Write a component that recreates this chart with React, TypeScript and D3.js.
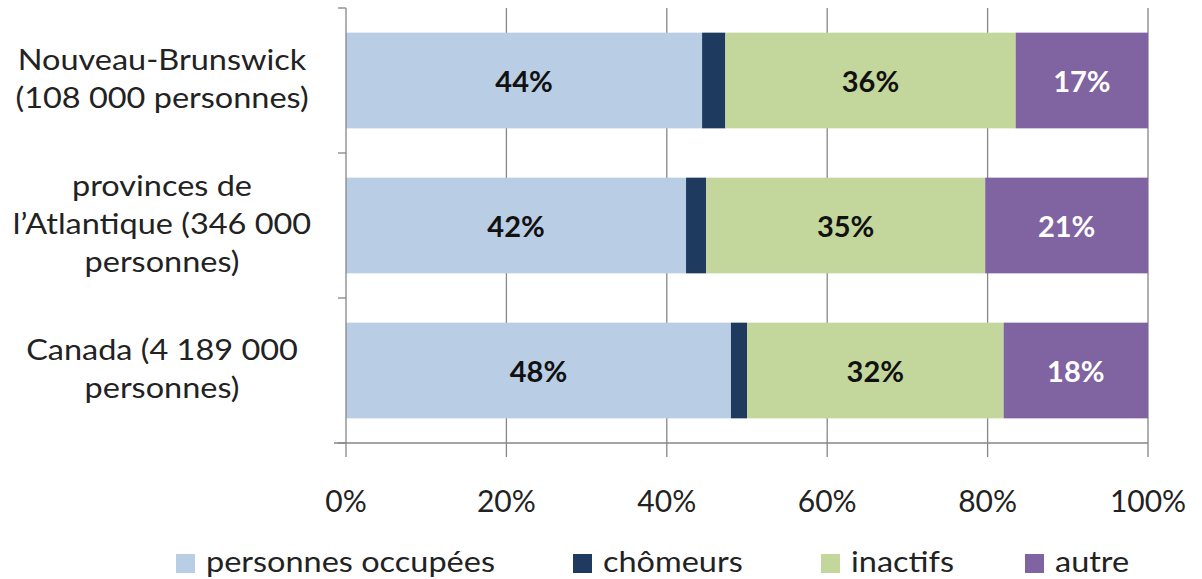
import React from "react";
import * as d3 from "d3";

const categories = [
  ["Nouveau-Brunswick", "(108 000 personnes)"],
  ["provinces de", "l’Atlantique (346 000", "personnes)"],
  ["Canada (4 189 000", "personnes)"],
];
const seriesNames = ["personnes occupées", "chômeurs", "inactifs", "autre"];
const occupees = [44.4, 42.4, 48.0];
const chomeurs = [2.9, 2.5, 2.0];
const inactifs = [36.2, 34.8, 32.0];
const autre = [16.5, 20.3, 18.0];
const dataLabels = [
  ["44%", "", "36%", "17%"],
  ["42%", "", "35%", "21%"],
  ["48%", "", "32%", "18%"],
];
const xTicks = [0, 20, 40, 60, 80, 100];

const colors = ["#b9cde5", "#1f3a5f", "#c3d69b", "#8064a2"];
const labelColors = ["#111", "#fff", "#111", "#fff"];
const legendX = [176, 573, 821, 1025];
const FONT = "Lato, 'Open Sans', sans-serif";
const STRETCH = 1.12;

export default function App() {
  const W = 1202, H = 579;
  const x = d3.scaleLinear().domain([0, 100]).range([346, 1148]);
  const y = d3.scaleBand<number>().domain([0, 1, 2]).range([8, 443]).padding(0);
  const barH = y.bandwidth() * 0.66;
  const series = [occupees, chomeurs, inactifs, autre];
  const rows = categories.map((_, i) => {
    const vals = series.map((s) => s[i]);
    const total = d3.sum(vals);
    let acc = 0;
    return vals.map((v, k) => {
      const x0 = (acc / total) * 100;
      acc += v;
      const x1 = (acc / total) * 100;
      return { x0, x1, k };
    });
  });

  return (
    <svg width={W} height={H} style={{ position: "absolute", left: 0, top: 0, background: "#fff" }}
      fontFamily={FONT}>
      {/* gridlines */}
      {xTicks.slice(1).map((t) => (
        <line key={t} x1={x(t)} x2={x(t)} y1={8} y2={443} stroke="#868686" strokeWidth={1.3} />
      ))}
      {/* bars */}
      {rows.map((segs, i) => {
        const yc = (y(i) as number) + y.bandwidth() / 2;
        return (
          <g key={i}>
            {segs.map((s) => (
              <rect key={s.k} x={x(s.x0)} width={x(s.x1) - x(s.x0)} y={yc - barH / 2} height={barH}
                fill={colors[s.k]} />
            ))}
            {segs.map((s) =>
              dataLabels[i][s.k] ? (
                <text key={"l" + s.k} x={(x(s.x0) + x(s.x1)) / 2} y={yc + 11} textAnchor="middle"
                  fontSize={29} fontWeight="bold" fill={labelColors[s.k]}>
                  {dataLabels[i][s.k]}
                </text>
              ) : null
            )}
          </g>
        );
      })}
      {/* y axis */}
      <line x1={346} x2={346} y1={8} y2={443} stroke="#868686" strokeWidth={1.3} />
      {[0, 1, 2, 3].map((i) => {
        const yy = i < 3 ? (y(i) as number) : 443;
        return <line key={i} x1={338} x2={346} y1={yy} y2={yy} stroke="#868686" strokeWidth={1.3} />;
      })}
      {/* x axis */}
      <line x1={334} x2={1148} y1={443} y2={443} stroke="#868686" strokeWidth={1.3} />
      {xTicks.map((t) => (
        <g key={t}>
          <line x1={x(t)} x2={x(t)} y1={443} y2={457} stroke="#868686" strokeWidth={1.3} />
          <text x={x(t)} y={512} textAnchor="middle" fontSize={30} fill="#222">{t}%</text>
        </g>
      ))}
      {/* category labels */}
      {categories.map((lines, i) => {
        const yc = (y(i) as number) + y.bandwidth() / 2;
        return (
          <text key={i} textAnchor="middle" fontSize={29} fill="#222"
            transform={`translate(162,0) scale(${STRETCH},1)`}>
            {lines.map((ln, j) => (
              <tspan key={j} x={0} y={yc + (j - (lines.length - 1) / 2) * 38 + 9}>{ln}</tspan>
            ))}
          </text>
        );
      })}
      {/* legend */}
      {seriesNames.map((n, k) => (
        <g key={n}>
          <rect x={legendX[k]} y={554} width={19} height={19} fill={colors[k]} />
          <text x={0} y={572} fontSize={29} fill="#222"
            transform={`translate(${legendX[k] + 30},0) scale(${STRETCH},1)`}>{n}</text>
        </g>
      ))}
    </svg>
  );
}
